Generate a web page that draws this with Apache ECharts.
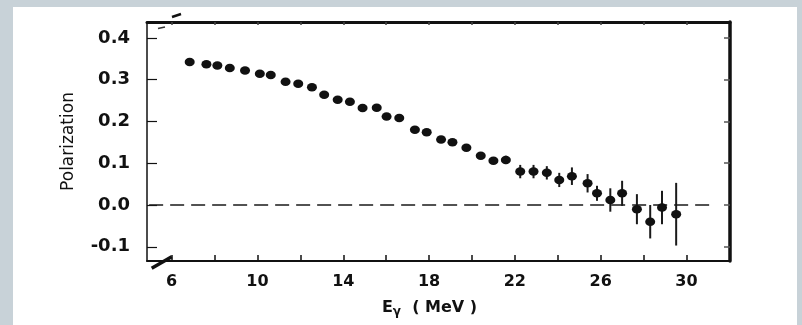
<!DOCTYPE html>
<html>
<head>
<meta charset="utf-8">
<script src="https://cdn.jsdelivr.net/npm/echarts@6/dist/echarts.min.js"></script>
<style>
  html, body { margin: 0; padding: 0; background: #c8d2d8; }
  #chart { position: absolute; left: 13px; top: 7px; width: 784px; height: 318px; background: #fff; }
</style>
</head>
<body>
<div id="chart"></div>
<script>
// photon energy (MeV), polarization, error bar half-height
var energy = [6.84, 7.62, 8.13, 8.71, 9.42, 10.11, 10.62, 11.31, 11.90, 12.54,
    13.11, 13.74, 14.31, 14.90, 15.56, 16.02, 16.61, 17.34, 17.89, 18.56,
    19.09, 19.74, 20.41, 21.00, 21.58, 22.25, 22.87, 23.49, 24.07, 24.66,
    25.39, 25.83, 26.45, 27.00, 27.69, 28.31, 28.86, 29.52];
var polarization = [0.342, 0.337, 0.334, 0.328, 0.322, 0.314, 0.311, 0.295, 0.290, 0.282,
    0.264, 0.252, 0.247, 0.232, 0.233, 0.212, 0.208, 0.180, 0.174, 0.157,
    0.150, 0.137, 0.118, 0.106, 0.108, 0.080, 0.080, 0.077, 0.060, 0.069,
    0.052, 0.028, 0.012, 0.028, -0.010, -0.040, -0.006, -0.022];
var errors = [0, 0, 0, 0, 0, 0, 0, 0, 0, 0,
    0, 0, 0, 0, 0, 0, 0, 0, 0, 0,
    0, 0.004, 0.006, 0.008, 0.01, 0.016, 0.016, 0.016, 0.017, 0.021,
    0.022, 0.018, 0.028, 0.030, 0.036, 0.040, 0.040, 0.075];

var xTicks = [6, 8, 10, 12, 14, 16, 18, 20, 22, 24, 26, 28, 30];
var xLabels = [6, 10, 14, 18, 22, 26, 30];
var yTicks = [-0.1, 0, 0.1, 0.2, 0.3, 0.4];
var zeroLineX = [4.95, 31.3];

var points = energy.map(function (e, i) { return [e, polarization[i]]; });
var bars = energy.map(function (e, i) { return [e, polarization[i] - errors[i], polarization[i] + errors[i]]; });
var zeroLine = zeroLineX.map(function (x) { return [x, 0]; });

var chart = echarts.init(document.getElementById('chart'));

var ink = '#111';
var labelFont = 'DejaVu Sans';

var option = {
    animation: false,
    grid: { left: 134, right: 67, top: 15, bottom: 64 },
    xAxis: [{
        type: 'value',
        position: 'bottom',
        min: 4.85,
        max: 32.03,
        name: 'E{s|γ}  ( MeV )',
        nameLocation: 'middle',
        nameGap: 37,
        nameTextStyle: {
            color: ink, fontSize: 16, fontWeight: 'bold', fontFamily: labelFont,
            padding: [0, 18, 0, 0],
            rich: { s: { fontSize: 12, fontWeight: 'bold', color: ink, fontFamily: labelFont, padding: [8, 0, 0, 0] } }
        },
        splitLine: { show: false },
        axisLine: { onZero: false, lineStyle: { color: ink, width: 2 } },
        axisTick: { inside: true, length: 6, lineStyle: { color: ink, width: 1.5 }, customValues: xTicks },
        axisLabel: {
            color: ink, fontSize: 16, fontWeight: 'bold', fontFamily: labelFont, margin: 13,
            customValues: xLabels
        }
    }, {
        type: 'value',
        position: 'top',
        min: 4.85,
        max: 32.03,
        splitLine: { show: false },
        axisLine: { onZero: false, lineStyle: { color: ink, width: 3 } },
        axisTick: { inside: true, length: 3, lineStyle: { color: '#444', width: 1.5 }, customValues: xTicks },
        axisLabel: { show: false }
    }],
    yAxis: [{
        type: 'value',
        position: 'left',
        min: -0.134,
        max: 0.438,
        name: 'Polarization',
        nameLocation: 'middle',
        nameGap: 70,
        nameTextStyle: { color: ink, fontSize: 17, fontFamily: labelFont },
        splitLine: { show: false },
        axisLine: { onZero: false, lineStyle: { color: ink, width: 1.5 } },
        axisTick: { inside: true, length: 10, lineStyle: { color: ink, width: 1.2 }, customValues: yTicks },
        axisLabel: {
            color: ink, fontSize: 18, fontWeight: 'bold', fontFamily: labelFont, margin: 17,
            customValues: yTicks,
            formatter: function (v) { return v.toFixed(1); }
        }
    }, {
        type: 'value',
        position: 'right',
        min: -0.134,
        max: 0.438,
        splitLine: { show: false },
        axisLine: { onZero: false, lineStyle: { color: ink, width: 3.5 } },
        axisTick: { inside: true, length: 6, lineStyle: { color: '#555', width: 1.5 }, customValues: yTicks },
        axisLabel: { show: false }
    }],
    graphic: [
        { type: 'line', shape: { x1: 138.7, y1: 261.3, x2: 158.7, y2: 249.7 }, style: { stroke: ink, lineWidth: 3.5 }, z: 100 },
        { type: 'line', shape: { x1: 159, y1: 10, x2: 168, y2: 7 }, style: { stroke: ink, lineWidth: 2.5 }, z: 100 },
        { type: 'line', shape: { x1: 145, y1: 21.5, x2: 152, y2: 20 }, style: { stroke: '#333', lineWidth: 1.5 }, z: 100 }
    ],
    series: [{
        type: 'line',
        data: zeroLine,
        symbol: 'none',
        lineStyle: { color: '#1a1a1a', width: 1.7, type: [14, 7] },
        silent: true
    }, {
        type: 'custom',
        data: bars,
        renderItem: function (params, api) {
            var lo = api.coord([api.value(0), api.value(1)]);
            var hi = api.coord([api.value(0), api.value(2)]);
            return {
                type: 'line',
                shape: { x1: lo[0], y1: lo[1], x2: hi[0], y2: hi[1] },
                style: { stroke: '#1a1a1a', lineWidth: 2 }
            };
        },
        silent: true,
        z: 3
    }, {
        type: 'scatter',
        data: points,
        symbol: 'circle',
        symbolSize: [10, 8.5],
        itemStyle: { color: ink, opacity: 1 },
        z: 4
    }]
};

chart.setOption(option);
</script>
</body>
</html>
